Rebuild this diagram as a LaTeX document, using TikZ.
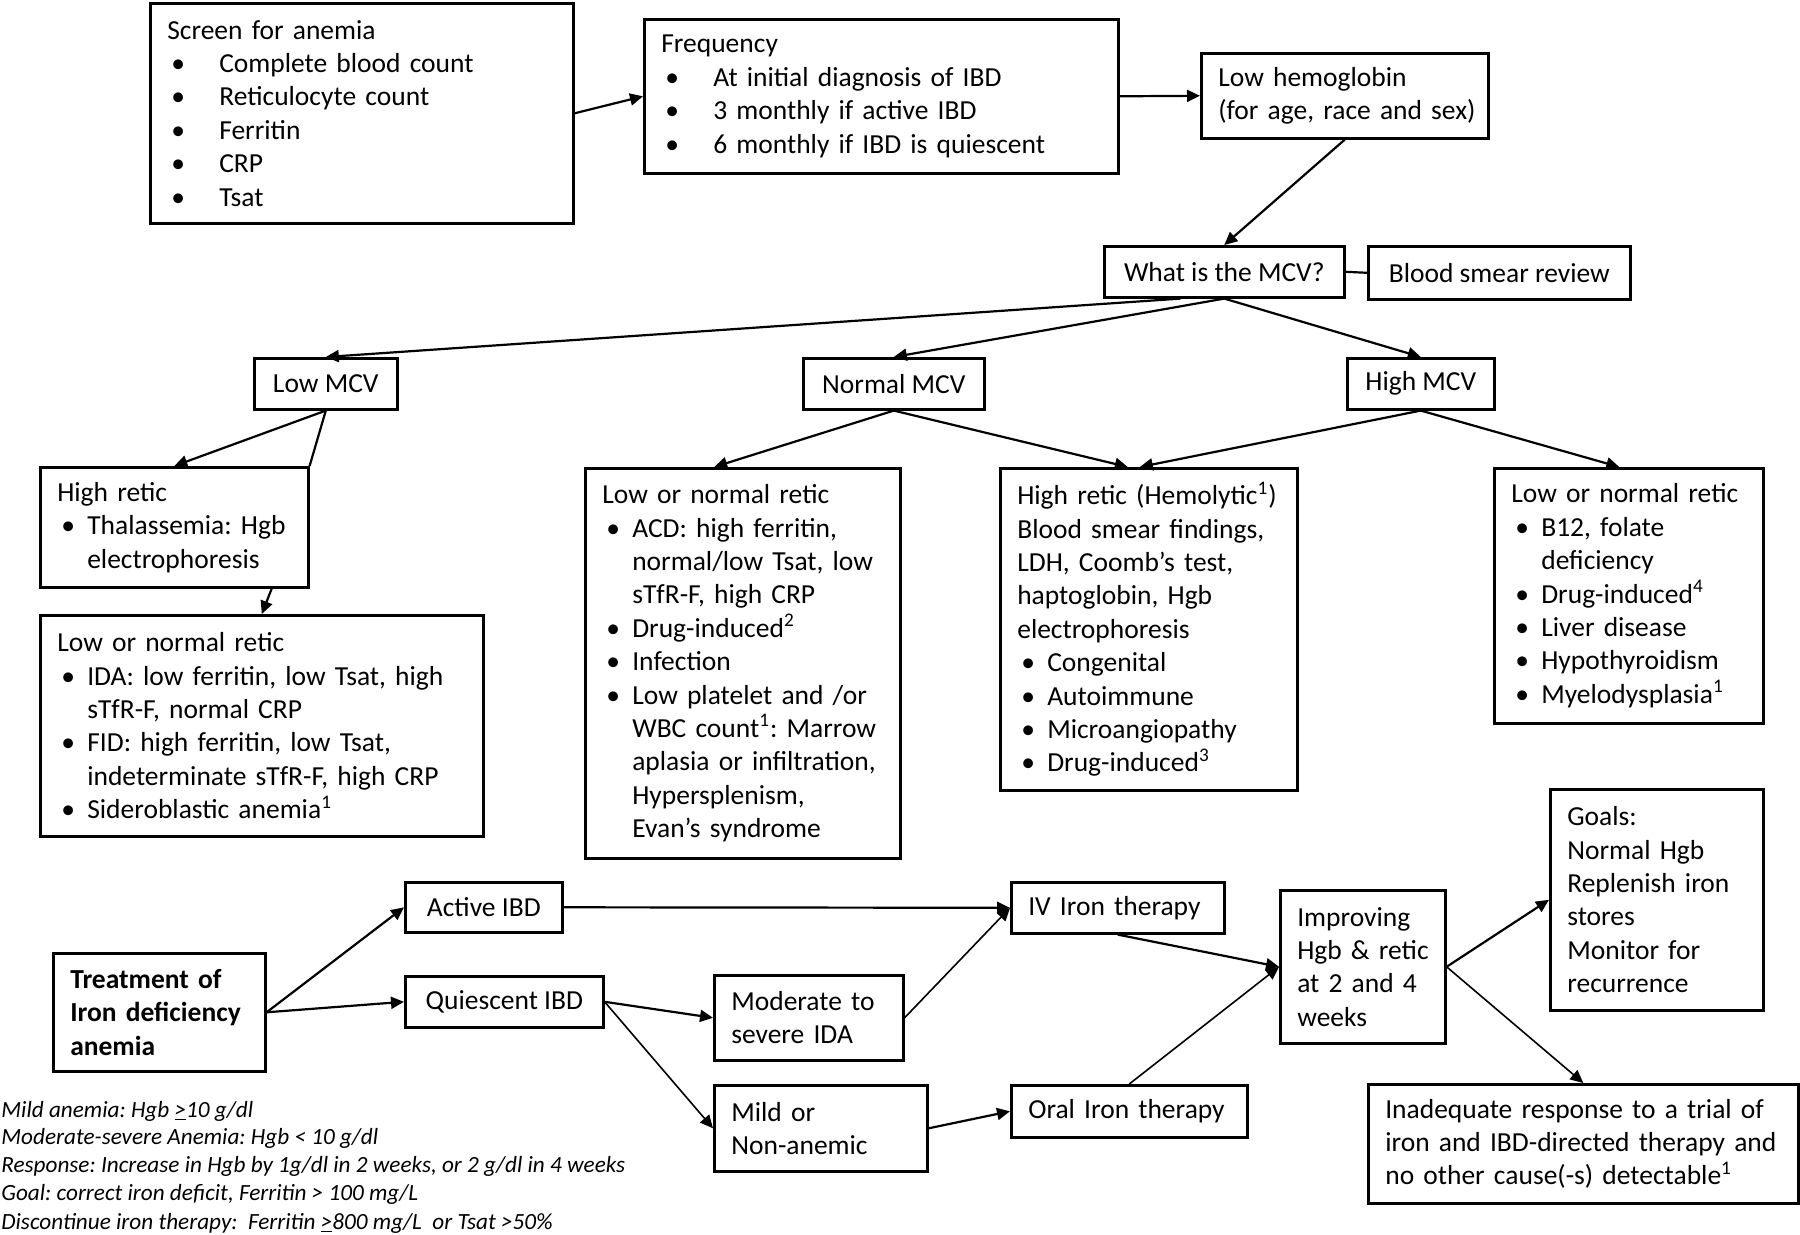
\documentclass[tikz,border=0pt]{standalone}
\usepackage{fontspec}
\setmainfont{Carlito}
\usetikzlibrary{arrows.meta,calc}
\frenchspacing
\newlength{\bind}
\setlength{\bind}{15pt}
\newcommand{\bitem}[1]{\mbox{\makebox[\bind][l]{\hspace{2pt}•}#1}}
\newcommand{\bcont}[1]{\mbox{\hspace*{\bind}#1}}
\newcommand{\flowbox}[7][]{%
  \pgfmathsetmacro{\fbW}{(#5-#3)/2}%
  \pgfmathsetmacro{\fbH}{(#6-#4)/2}%
  \pgfmathsetmacro{\fbT}{(#5-#3)/2-17}%
  \node[box,anchor=north west,minimum width=\fbW pt,minimum height=\fbH pt,text width=\fbT pt,align=left,#1] (#2) at (#3,#4) {#7};}
\newcommand{\centbox}[7][]{%
  \pgfmathsetmacro{\fbW}{(#5-#3)/2}%
  \pgfmathsetmacro{\fbH}{(#6-#4)/2}%
  \node[box,anchor=north west,minimum width=\fbW pt,minimum height=\fbH pt,inner xsep=2pt,align=center,#1] (#2) at (#3,#4) {#7};}
\tikzset{
  box/.style={draw=black,line width=1.3pt,rectangle,inner xsep=8.5pt,inner ysep=0pt,
    font=\fontsize{13.75}{16.7}\selectfont\frenchspacing,text=black},
  arr/.style={line width=1.1pt,-{Triangle[length=6.5pt,width=6pt]}},
  thinarr/.style={line width=0.8pt,-{Triangle[length=6.5pt,width=6pt]}},
  ln/.style={line width=1.1pt},
  fn/.style={inner sep=0pt,anchor=base west,font=\fontsize{11.6}{14}\selectfont\itshape\frenchspacing}
}
\begin{document}
\begin{tikzpicture}[x=0.5pt,y=-0.5pt]
\fill[white] (0,0) rectangle (1800,1235);
\useasboundingbox (0,0) rectangle (1800,1235);

% top row
\flowbox{screen}{149}{2}{572}{222}{\setlength{\bind}{26pt}Screen for anemia\\
\bitem{Complete blood count}\\
\bitem{Reticulocyte count}\\
\bitem{Ferritin}\\
\bitem{CRP}\\
\bitem{Tsat}}
\flowbox{freq}{643}{18}{1117}{172}{\setlength{\bind}{26pt}Frequency\\
\bitem{At initial diagnosis of IBD}\\
\bitem{3 monthly if active IBD}\\
\bitem{6 monthly if IBD is quiescent}}
\flowbox{lowhgb}{1200}{52}{1487}{137}{\mbox{Low hemoglobin}\\
\mbox{(for age, race and sex)}}

\centbox{mcv}{1103}{245}{1343}{296}{What is the MCV?}
\centbox{smear}{1367}{245}{1629}{298}{Blood smear review}

\centbox{lowmcv}{253}{357}{396}{408}{Low MCV}
\centbox{normmcv}{802}{357}{983}{408}{Normal MCV}
\centbox{highmcv}{1346}{357}{1493}{408}{High MCV}

% third row
\flowbox{hret}{39}{466}{307}{586}{\mbox{High retic}\\
\bitem{Thalassemia: Hgb}\\
\bcont{electrophoresis}}
\flowbox{lretl}{39}{614}{482}{835}{\mbox{Low or normal retic}\\
\bitem{IDA: low ferritin, low Tsat, high}\\
\bcont{sTfR-F, normal CRP}\\
\bitem{FID: high ferritin, low Tsat,}\\
\bcont{indeterminate sTfR-F, high CRP}\\
\bitem{Sideroblastic anemia\textsuperscript{1}}}
\flowbox{lretm}{584}{467}{899}{857}{\mbox{Low or normal retic}\\
\bitem{ACD: high ferritin,}\\
\bcont{normal/low Tsat, low}\\
\bcont{sTfR-F, high CRP}\\
\bitem{Drug-induced\textsuperscript{2}}\\
\bitem{Infection}\\
\bitem{Low platelet and /or}\\
\bcont{WBC count\textsuperscript{1}: Marrow}\\
\bcont{aplasia or infiltration,}\\
\bcont{Hypersplenism,}\\
\bcont{Evan’s syndrome}}
\flowbox{hemo}{999}{467}{1296}{789}{\mbox{High retic (Hemolytic\textsuperscript{1})}\\
\mbox{Blood smear findings,}\\
\mbox{LDH, Coomb’s test,}\\
\mbox{haptoglobin, Hgb}\\
\mbox{electrophoresis}\\
\bitem{Congenital}\\
\bitem{Autoimmune}\\
\bitem{Microangiopathy}\\
\bitem{Drug-induced\textsuperscript{3}}}
\flowbox{lretr}{1493}{467}{1762}{722}{\mbox{Low or normal retic}\\
\bitem{B12, folate}\\
\bcont{deficiency}\\
\bitem{Drug-induced\textsuperscript{4}}\\
\bitem{Liver disease}\\
\bitem{Hypothyroidism}\\
\bitem{Myelodysplasia\textsuperscript{1}}}

% treatment section
\flowbox{goals}{1549}{788}{1762}{1009}{Goals:\\
\mbox{Normal Hgb}\\
\mbox{Replenish iron}\\
stores\\
\mbox{Monitor for}\\
recurrence}
\flowbox[font=\fontsize{13.75}{16.7}\selectfont\bfseries]{treat}{52}{952}{264}{1070}{\mbox{Treatment of}\\
\mbox{Iron deficiency}\\
anemia}
\centbox{active}{404}{881}{561}{931}{Active IBD}
\centbox{quies}{404}{975}{602}{1026}{Quiescent IBD}
\flowbox{moder}{713}{974}{902}{1059}{\mbox{Moderate to}\\
\mbox{severe IDA}}
\flowbox{mild}{713}{1084}{926}{1170}{\mbox{Mild or}\\
Non-anemic}
\flowbox{iv}{1010}{881}{1223}{932}{\mbox{IV Iron therapy}}
\flowbox{oral}{1010}{1084}{1246}{1136}{\mbox{Oral Iron therapy}}
\flowbox{impr}{1279}{889}{1444}{1042}{Improving\\
\mbox{Hgb \& retic}\\
\mbox{at 2 and 4}\\
weeks}
\flowbox{inad}{1367}{1083}{1797}{1202}{\mbox{Inadequate response to a trial of}\\
\mbox{iron and IBD-directed therapy and}\\
\mbox{no other cause(-s) detectable\textsuperscript{1}}}

% footnotes
\node[fn] (fn1) at (1,1117) {Mild anemia: Hgb \underline{>}10 g/dl};
\node[fn] (fn2) at (1,1144) {Moderate-severe Anemia: Hgb < 10 g/dl};
\node[fn] (fn3) at (1,1172) {Response: Increase in Hgb by 1g/dl in 2 weeks, or 2 g/dl in 4 weeks};
\node[fn] (fn4) at (1,1200) {Goal: correct iron deficit, Ferritin > 100 mg/L};
\node[fn] (fn5) at (1,1229) {Discontinue iron therapy:\ \ Ferritin \underline{>}800 mg/L\ \ or Tsat >50\%};

% connectors top
\draw[arr] (screen.east) -- (freq.west);
\draw[arr] (freq.east) -- (lowhgb.west);
\draw[arr] (lowhgb.south) -- (mcv.north);
\draw[ln] (mcv.east) -- (smear.west);
\draw[arr] ($(mcv.south west)!0.32!(mcv.south east)$) -- (lowmcv.north);
\draw[arr] (mcv.south) -- (normmcv.north);
\draw[arr] (mcv.south) -- (highmcv.north);
\draw[arr] (lowmcv.south) -- (hret.north);
\draw[ln] (lowmcv.south) -- (hret.north east);
\draw[arr] ($(hret.south west)!0.86!(hret.south east)$) -- (lretl.north);
\draw[arr] (normmcv.south) -- ($(lretm.north west)!0.41!(lretm.north east)$);
\draw[arr] (normmcv.south) -- ($(hemo.north west)!0.43!(hemo.north east)$);
\draw[arr] (highmcv.south) -- ($(hemo.north west)!0.47!(hemo.north east)$);
\draw[arr] (highmcv.south) -- ($(lretr.north west)!0.465!(lretr.north east)$);

% connectors bottom
\draw[arr] (treat.east) -- (active.west);
\draw[arr] (treat.east) -- (quies.west);
\draw[arr] (active.east) -- (iv.west);
\draw[arr] (quies.east) -- (moder.west);
\draw[thinarr] (quies.east) -- (mild.west);
\draw[thinarr] (moder.east) -- (iv.west);
\draw[arr] (mild.east) -- (oral.west);
\draw[arr] (iv.south) -- (impr.west);
\draw[thinarr] (oral.north) -- (impr.west);
\draw[arr] (impr.east) -- (goals.west);
\draw[thinarr] (impr.east) -- (inad.north);
\end{tikzpicture}
\end{document}
